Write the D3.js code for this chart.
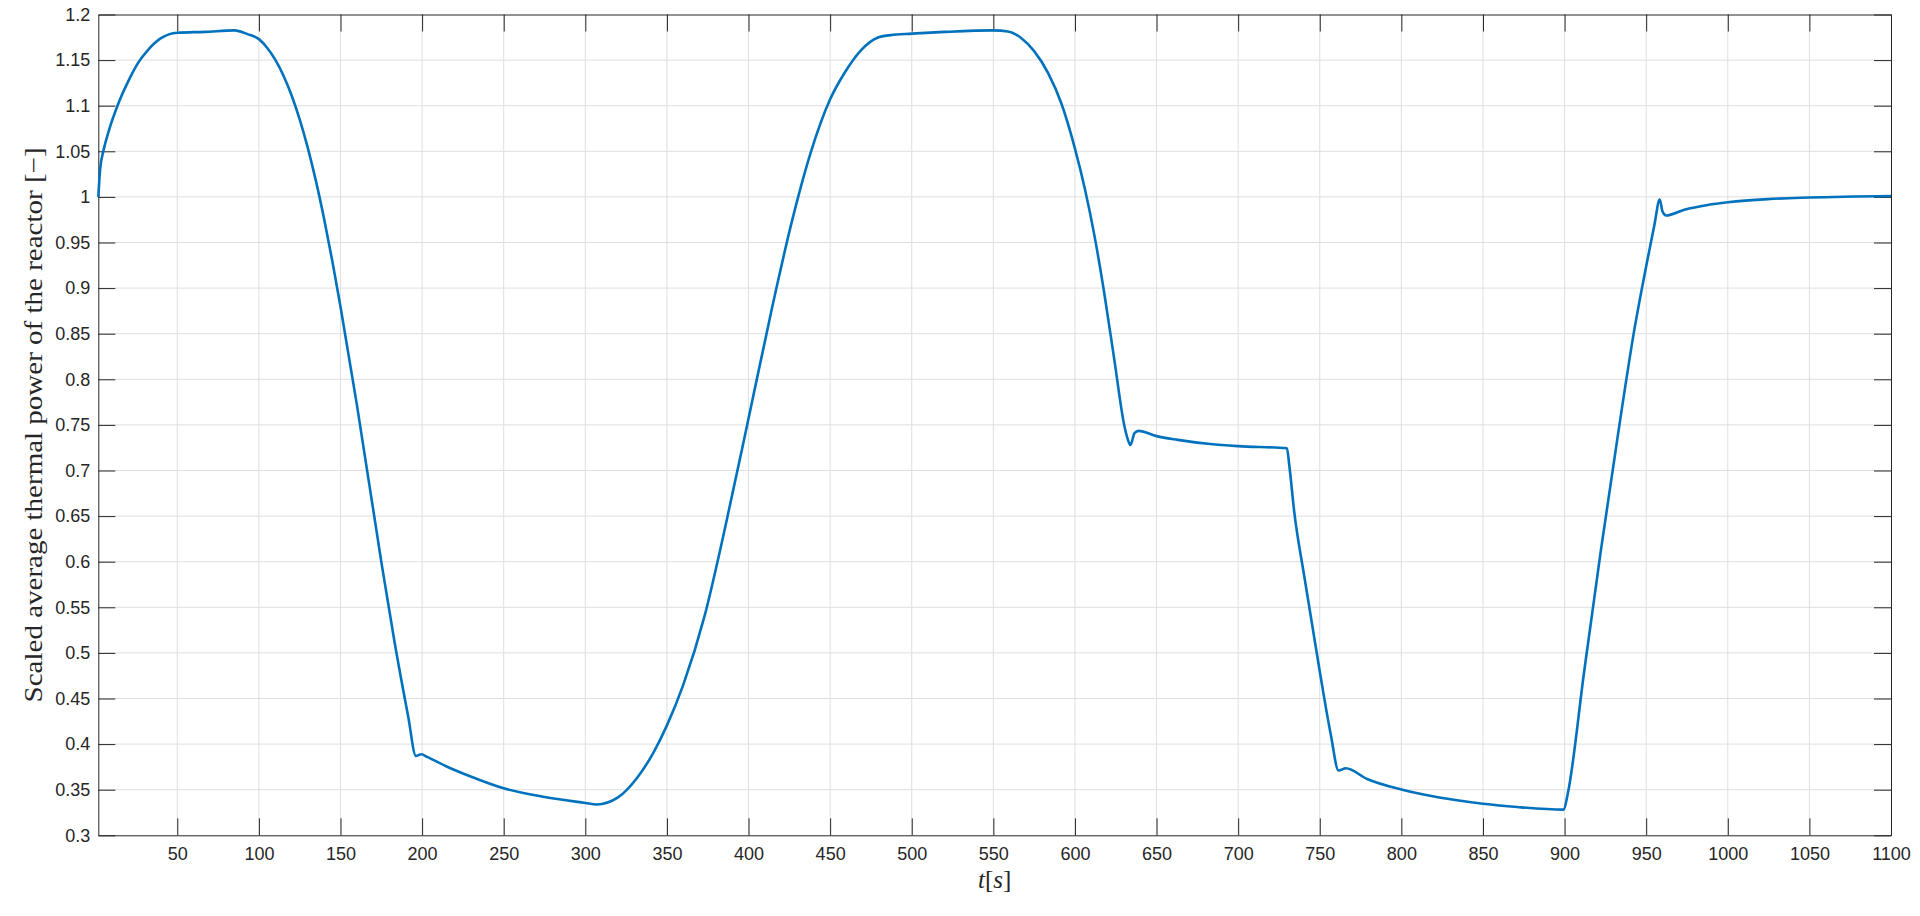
<!DOCTYPE html>
<html>
<head>
<meta charset="utf-8">
<script src="https://cdn.jsdelivr.net/npm/d3@7"></script>
<style>
  html, body { margin: 0; padding: 0; background: #fff; }
  svg { display: block; }
</style>
</head>
<body>
<svg id="chart"></svg>
<script>
// time [s]
const time = [
  1.6, 2.7, 4.8, 7.8, 14, 20, 26, 32, 40, 50, 67, 85, 93, 100, 105, 110, 115, 120, 125, 130,
  135, 140, 145, 150, 160, 175, 183, 191.5, 196.2, 199.5, 203, 215, 229, 250, 275, 300, 307, 320,
  332, 342, 350, 360, 373, 385, 400, 414, 426, 438, 450, 458.5, 469, 479, 487, 500, 520, 550,
  559, 567, 575, 583.5, 591.7, 600, 606, 612, 618, 624, 630.4, 633, 634, 636.5, 639, 650, 663,
  683, 700, 729.9, 731.3, 734.4, 740.5, 750, 756.8, 761.5, 766, 779, 800, 820, 832, 850, 871,
  899.5, 902, 912, 922.3, 932.6, 942.8, 950, 955, 958.3, 960, 962.2, 973.4, 987.7, 1000, 1024.5,
  1050, 1100
];

// scaled average thermal power [-]
const power = [
  1.0, 1.03, 1.051, 1.071, 1.103, 1.127, 1.147, 1.161, 1.174, 1.18, 1.181, 1.1826, 1.1785, 1.173,
  1.1636, 1.1505, 1.1332, 1.1115, 1.085, 1.0535,
  1.017, 0.9755, 0.9295, 0.8795, 0.7725, 0.600, 0.513, 0.43, 0.387, 0.3888, 0.386, 0.3755, 0.365,
  0.3515, 0.342, 0.3355, 0.3338, 0.3415,
  0.3636, 0.3915, 0.4205, 0.465, 0.540, 0.632, 0.757, 0.875, 0.969, 1.048, 1.107, 1.135, 1.161,
  1.1745, 1.1774, 1.179, 1.1809, 1.1826,
  1.1814, 1.1742, 1.1598, 1.136, 1.1024, 1.053, 1.0095, 0.957, 0.894, 0.823, 0.748, 0.731, 0.728,
  0.741, 0.7435, 0.7377, 0.7336,
  0.729, 0.7267, 0.7244, 0.706, 0.654, 0.584, 0.4796, 0.41, 0.371, 0.3735, 0.3618, 0.3502, 0.3425,
  0.339, 0.3346, 0.331,
  0.3282, 0.346, 0.4796, 0.6133, 0.738, 0.855, 0.924, 0.969, 0.997, 0.984, 0.9796, 0.986, 0.9912,
  0.9941, 0.9976,
  0.9993, 1.001
];

const xTicks = [50, 100, 150, 200, 250, 300, 350, 400, 450, 500, 550, 600, 650, 700, 750, 800,
  850, 900, 950, 1000, 1050, 1100];
const yTicks = [0.3, 0.35, 0.4, 0.45, 0.5, 0.55, 0.6, 0.65, 0.7, 0.75, 0.8, 0.85, 0.9, 0.95,
  1, 1.05, 1.1, 1.15, 1.2];

const width = 1920;
const height = 916;
const plotLeft = 98.3;
const plotRight = 1891;
const plotTop = 14.5;
const plotBottom = 835.3;
const tickLen = 17;
const axisColor = '#262626';

const data = time.map((t, i) => ({ t: t, p: power[i] }));

let x = d3.scaleLinear()
  .domain([1.6, 1100])
  .range([plotLeft, plotRight]);

let y = d3.scaleLinear()
  .domain([0.3, 1.2])
  .range([plotBottom, plotTop]);

const svg = d3.select('#chart')
  .attr('width', width)
  .attr('height', height)
  .style('font-family', '"Liberation Sans", Arial, sans-serif');

svg.append('rect')
  .attr('width', width)
  .attr('height', height)
  .attr('fill', '#fff');

// grid
let grid = svg.append('g').attr('class', 'grid');
grid.selectAll('line.gx')
  .data(xTicks.filter(d => d < 1100))
  .enter()
  .append('line')
  .attr('x1', d => x(d))
  .attr('x2', d => x(d))
  .attr('y1', plotTop)
  .attr('y2', plotBottom)
  .attr('stroke', '#dfdfdf')
  .attr('stroke-width', 1);
grid.selectAll('line.gy')
  .data(yTicks.filter(d => d > 0.3 && d < 1.2))
  .enter()
  .append('line')
  .attr('x1', plotLeft)
  .attr('x2', plotRight)
  .attr('y1', d => y(d))
  .attr('y2', d => y(d))
  .attr('stroke', '#dfdfdf')
  .attr('stroke-width', 1);

// axes: inward ticks on all four sides
let xAxis = d3.axisBottom(x)
  .tickValues(xTicks)
  .tickSizeInner(-tickLen)
  .tickSizeOuter(0)
  .tickPadding(12)
  .tickFormat(d3.format('d'));

let xTop = d3.axisTop(x)
  .tickValues(xTicks)
  .tickSizeInner(-tickLen)
  .tickSizeOuter(0)
  .tickFormat('');

let yAxis = d3.axisLeft(y)
  .tickValues(yTicks)
  .tickSizeInner(-tickLen)
  .tickSizeOuter(0)
  .tickPadding(8)
  .tickFormat(d => String(+d.toFixed(2)));

let yRight = d3.axisRight(y)
  .tickValues(yTicks)
  .tickSizeInner(-tickLen)
  .tickSizeOuter(0)
  .tickFormat('');

function styleAxis (g) {
  g.select('.domain').attr('stroke', axisColor).attr('stroke-width', 1);
  g.selectAll('.tick line').attr('stroke', axisColor).attr('stroke-width', 1);
  g.selectAll('.tick text')
    .attr('fill', axisColor)
    .style('font-size', '18px')
    .style('font-family', '"Liberation Sans", Arial, sans-serif');
}

svg.append('g')
  .attr('transform', 'translate(0,' + plotBottom + ')')
  .call(xAxis)
  .call(styleAxis);

svg.append('g')
  .attr('transform', 'translate(0,' + plotTop + ')')
  .call(xTop)
  .call(styleAxis);

svg.append('g')
  .attr('transform', 'translate(' + plotLeft + ',0)')
  .call(yAxis)
  .call(styleAxis);

svg.append('g')
  .attr('transform', 'translate(' + plotRight + ',0)')
  .call(yRight)
  .call(styleAxis);

// the curve
const line = d3.line()
  .x(d => x(d.t))
  .y(d => y(d.p))
  .curve(d3.curveMonotoneX);

svg.append('path')
  .datum(data)
  .attr('fill', 'none')
  .attr('stroke', '#0072bd')
  .attr('stroke-width', 2.6)
  .attr('stroke-linejoin', 'round')
  .attr('d', line);

// labels
svg.append('text')
  .attr('x', (plotLeft + plotRight) / 2)
  .attr('y', 888)
  .attr('text-anchor', 'middle')
  .attr('fill', axisColor)
  .style('font-family', '"Liberation Serif", "DejaVu Serif", serif')
  .style('font-size', '25px')
  .html('<tspan font-style="italic">t</tspan>[<tspan font-style="italic">s</tspan>]');

svg.append('text')
  .attr('transform', 'translate(42,' + ((plotTop + plotBottom) / 2) + ') rotate(-90)')
  .attr('text-anchor', 'middle')
  .attr('fill', axisColor)
  .attr('textLength', 555)
  .attr('lengthAdjust', 'spacingAndGlyphs')
  .style('font-family', '"Liberation Serif", "DejaVu Serif", serif')
  .style('font-size', '25px')
  .text('Scaled average thermal power of the reactor [\u2212]');
</script>
</body>
</html>
